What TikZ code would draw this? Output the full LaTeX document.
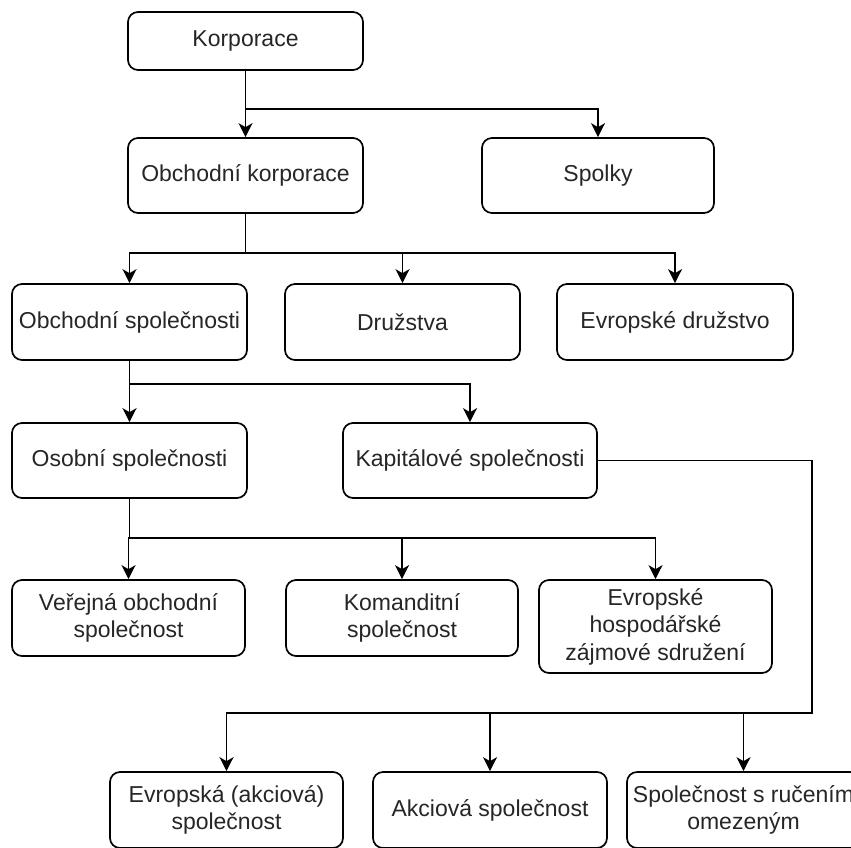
\documentclass[tikz,border=0pt]{standalone}
\usepackage{fontspec}
\setmainfont{Liberation Sans}
\usetikzlibrary{arrows.meta}
\begin{document}
\begin{tikzpicture}[x=1pt,y=-1pt,
  box/.style={draw=black, line width=1.7pt, rounded corners=10pt, fill=white,
    inner sep=0pt, align=center, font=\fontsize{23}{27.5}\selectfont,
    text=black!85, minimum height=75pt},
  arr/.style={line width=1.7pt, line join=miter, -{Stealth[length=14pt,width=14pt,inset=4pt]}},
  conn/.style={line width=1.7pt}]
\clip (0,0) rectangle (851,847);
\fill[white] (0,0) rectangle (851,847);

\node[box, minimum width=235pt, minimum height=58pt] (korp) at (245.5,41) {Korporace};
\node[box, minimum width=235pt] (obk) at (245.5,175.5) {Obchodní korporace};
\node[box, minimum width=232pt] (spolky) at (598,175.5) {Spolky};

\node[box, minimum width=235pt, minimum height=76pt] (osp) at (129.5,322) {Obchodní společnosti};
\node[box, minimum width=235pt, minimum height=76pt] (druz) at (402.5,322) {Družstva};
\node[box, minimum width=236pt, minimum height=76pt] (evd) at (675,322) {Evropské družstvo};

\node[box, minimum width=235pt] (osob) at (129.5,460.5) {Osobní společnosti};
\node[box, minimum width=254pt] (kap) at (470,460.5) {Kapitálové společnosti};

\node[box, minimum width=233pt, minimum height=76pt] (ver) at (128.5,618) {Veřejná obchodní\\společnost};
\node[box, minimum width=232pt, minimum height=76pt] (kom) at (402,618) {Komanditní\\společnost};
\node[box, minimum width=233pt, minimum height=93pt] (ehzs) at (655.5,626.5) {Evropské\\hospodářské\\zájmové sdružení};

\node[box, minimum width=233pt, minimum height=76pt] (eva) at (226.5,810) {Evropská (akciová)\\společnost};
\node[box, minimum width=234pt, minimum height=76pt] (akc) at (490,810) {Akciová společnost};
\node[box, minimum width=233pt, minimum height=76pt] (sro) at (743.5,810) {Společnost s ručením\\omezeným};

% Korporace
\draw[arr] (korp.south) -- (obk.north);
\draw[arr] (korp.south) -- ++(0,38) -| (spolky.north);

% Obchodní korporace
\draw[arr] (obk.south) -- ++(0,39) -| (osp.north);
\draw[arr] (obk.south) -- ++(0,39) -| (druz.north);
\draw[arr] (obk.south) -- ++(0,39) -| (evd.north);

% Obchodní společnosti
\draw[arr] (osp.south) -- (osob.north);
\draw[arr] (osp.south) -- ++(0,23) -| (kap.north);

% Osobní společnosti
\draw[arr] (osob.south) -- ++(0,39) -| (ver.north);
\draw[arr] (osob.south) -- ++(0,39) -| (kom.north);
\draw[arr] (osob.south) -- ++(0,39) -| (ehzs.north);

% Kapitálové společnosti
\coordinate (kr) at (812,460.5);
\coordinate (kb) at (812,713);
\draw[arr] (kap.east) -- (kr) -- (kb) -| (eva.north);
\draw[arr] (kap.east) -- (kr) -- (kb) -| (akc.north);
\draw[arr] (kap.east) -- (kr) -- (kb) -| (sro.north);
\end{tikzpicture}
\end{document}
